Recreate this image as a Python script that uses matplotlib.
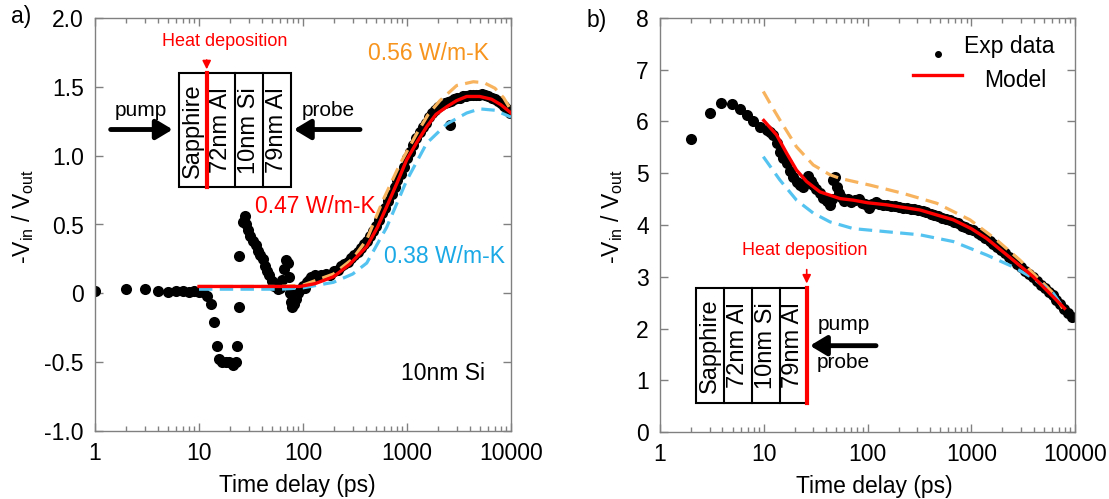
import matplotlib
matplotlib.use("Agg")
import matplotlib.pyplot as plt
from matplotlib.patches import Rectangle
from matplotlib.ticker import FixedLocator, FuncFormatter, NullFormatter, LogLocator

plt.rcParams['font.family'] = ['Liberation Sans', 'DejaVu Sans']

# ---------------- data: panel a ----------------
exp_a_x = [1, 2, 3, 4, 5, 6, 7, 8, 9, 10, 11,
           12, 13, 14, 15, 15.5, 16.5, 18, 19.5, 21, 22.5, 23, 24, 24.5, 26.5, 27.5, 28.5,
           29.5, 31, 33, 35, 37, 39, 41, 43, 45, 47, 50, 53, 57, 60, 63, 66, 69, 71, 73,
           75, 77, 79, 82, 86, 90, 95, 100, 105, 110, 115, 120, 130, 140, 150, 165, 180,
           200, 215, 230, 250, 270, 290, 310, 335, 360, 385, 410, 440, 470, 500, 540, 580,
           620, 660, 710, 760, 810, 870, 930, 1000, 1070, 1150, 1230, 1320, 1410, 1510,
           1620, 1740, 1860, 2000, 2140, 2300, 2460, 2600, 2640, 2830, 3030, 3250, 3480,
           3730, 4000, 4290, 4600, 4930, 5280, 5660, 6070, 6500, 6970, 7470, 8000, 8580,
           9200, 9860]
exp_a_y = [0.02, 0.03, 0.03, 0.02, 0.01, 0.02, 0.02, 0.01, 0.02, 0.01, 0.01,
           -0.02, -0.08, -0.21, -0.38, -0.48, -0.50, -0.50, -0.50, -0.52, -0.50, -0.38, -0.10,
           0.27, 0.52, 0.56, 0.50,
           0.46, 0.42, 0.38, 0.35, 0.31, 0.28, 0.25, 0.20, 0.16, 0.13, 0.09, 0.05, 0.03,
           0.04, 0.10, 0.18, 0.24, 0.22, 0.12,
           0.00, -0.06, -0.10, -0.08, -0.04, 0.00, 0.03, 0.05, 0.04, 0.08, 0.10, 0.12, 0.13,
           0.12, 0.13, 0.14, 0.13,
           0.16, 0.17, 0.20, 0.21, 0.23, 0.26, 0.28, 0.30, 0.33, 0.36, 0.38, 0.42, 0.45,
           0.49, 0.53, 0.58,
           0.62, 0.67, 0.72, 0.77, 0.82, 0.87, 0.92, 0.98, 1.03, 1.08, 1.13, 1.17, 1.21,
           1.24,
           1.28, 1.31, 1.33, 1.35, 1.37, 1.38, 1.39, 1.22, 1.40, 1.41, 1.42, 1.42, 1.43,
           1.43, 1.44, 1.44, 1.44, 1.44, 1.45, 1.44, 1.43, 1.42, 1.41, 1.40, 1.38, 1.36,
           1.34, 1.31]

red_a_x = [10, 30, 60, 93.5, 130, 196, 280, 410, 520, 638, 800, 993, 1250, 1546, 1900,
           2410, 3000, 3750, 5000, 6500, 8000, 10000]
red_a_y = [0.05, 0.05, 0.05, 0.05, 0.07, 0.12, 0.21, 0.34, 0.48, 0.63, 0.80, 0.97, 1.10,
           1.21, 1.30, 1.355, 1.40, 1.43, 1.43, 1.41, 1.37, 1.31]

orange_a_x = [10, 30, 60, 100, 196, 300, 410, 591, 857, 1240, 1600, 2075, 3010, 4340,
              5500, 7000, 8500, 10000]
orange_a_y = [0.05, 0.05, 0.05, 0.06, 0.14, 0.25, 0.39, 0.68, 0.94, 1.16, 1.30, 1.40,
              1.51, 1.537, 1.53, 1.49, 1.42, 1.33]

blue_a_x = [10, 30, 60, 100, 196, 300, 410, 638, 993, 1546, 2410, 3750, 5000, 7000, 10000]
blue_a_y = [0.03, 0.03, 0.03, 0.04, 0.08, 0.14, 0.22, 0.48, 0.82, 1.09, 1.23, 1.31, 1.34,
            1.33, 1.28]

# ---------------- data: panel b ----------------
exp_b_x = [2, 3, 3.9, 4.9, 5.9, 6.85, 7.9, 9.2, 10.7, 11.5, 12.3, 13.3, 14.3, 15.3, 16.6,
           17.9, 19.3, 20.8, 22.3, 24.0, 25.5, 26.8, 28.4, 30.0, 32, 34.8, 37.5, 40.3,
           43.5, 45, 46.8, 48.5, 50.6, 53, 56, 60, 65, 70, 76, 82, 88, 95, 103, 110, 120,
           130, 142, 155, 168, 183, 200, 218, 238, 260, 283, 310, 340, 370, 405, 440, 480,
           525, 570, 620, 680, 740, 810, 880, 960, 1050, 1150, 1250, 1370, 1500, 1630,
           1780, 1950, 2130, 2320, 2530, 2760, 3010, 3290, 3590, 3920, 4280, 4670, 5100,
           5560, 6070, 6630, 7230, 7890, 8610, 9400]
exp_b_y = [5.66, 6.17, 6.36, 6.34, 6.25, 6.13, 6.00, 5.90, 5.84, 5.80, 5.74, 5.58, 5.42,
           5.30, 5.19, 5.05, 4.93, 4.83, 4.78, 4.74, 4.85, 4.95, 4.85, 4.77, 4.70, 4.61,
           4.52, 4.46, 4.39, 4.50, 4.87, 4.93, 4.74, 4.62, 4.55, 4.47, 4.50, 4.45, 4.48,
           4.51, 4.42, 4.40, 4.33, 4.41, 4.44, 4.40, 4.38, 4.39, 4.36, 4.36, 4.34, 4.33,
           4.33, 4.31, 4.30, 4.29, 4.27, 4.25, 4.22, 4.20, 4.17, 4.14, 4.12, 4.09, 4.06,
           4.03, 3.99, 3.97, 3.93, 3.90, 3.85, 3.80, 3.75, 3.69, 3.63, 3.57, 3.51, 3.45,
           3.39, 3.32, 3.25, 3.18, 3.11, 3.05, 2.99, 2.92, 2.85, 2.78, 2.71, 2.64, 2.56,
           2.47, 2.38, 2.29, 2.22]

red_b_x = [10, 13.3, 16.6, 20.7, 25.9, 34.8, 54.5, 73, 100, 153, 321, 671, 1000, 1408,
           2540, 3960, 6180, 7920]
red_b_y = [6.02, 5.74, 5.39, 5.06, 4.84, 4.64, 4.51, 4.48, 4.43, 4.39, 4.29, 4.10, 3.93,
           3.74, 3.32, 3.00, 2.61, 2.39]

orange_b_x = [9.9, 12.3, 14.3, 20.7, 30, 43.5, 54.5, 106, 221, 465, 972, 1759, 2950,
              4265, 6180, 7600]
orange_b_y = [6.58, 6.25, 6.03, 5.51, 5.16, 4.97, 4.90, 4.77, 4.61, 4.42, 4.10, 3.71,
              3.32, 3.00, 2.68, 2.39]

blue_b_x = [9.9, 14.3, 20.7, 30, 43.5, 73, 153, 321, 671, 1408, 2540, 3960, 6180, 7600]
blue_b_y = [5.32, 4.87, 4.48, 4.23, 4.06, 3.93, 3.87, 3.81, 3.68, 3.42, 3.19, 2.97, 2.68,
            2.42]

x_ticks = [1, 10, 100, 1000, 10000]
a_yticks = [-1.0, -0.5, 0, 0.5, 1.0, 1.5, 2.0]
a_yticklabels = ['-1.0', '-0.5', '0', '0.5', '1.0', '1.5', '2.0']
b_yticks = [0, 1, 2, 3, 4, 5, 6, 7, 8]
layers = ['Sapphire', '72nm Al', '10nm Si', '79nm Al']

# ---------------- styling ----------------
RED = '#FF0000'
ORANGE_LINE = '#F8B35E'
BLUE_LINE = '#55C3F0'
ORANGE_TXT = '#F7941D'
BLUE_TXT = '#1BA9E6'
SPINE = '#808080'
FS = 16.5
DASH = (0, (4.2, 2.3))
MS = 8.0

fig = plt.figure(figsize=(11.09, 4.99), dpi=100)
axa = fig.add_axes([95/1109, 68/499, 416/1109, 413/499])
axb = fig.add_axes([660/1109, 67/499, 415/1109, 414/499])


def style_axis(ax):
    ax.set_xscale('log')
    ax.set_xlim(1, 10000)
    ax.xaxis.set_major_locator(FixedLocator(x_ticks))
    ax.xaxis.set_major_formatter(FuncFormatter(lambda v, p: '%d' % round(v)))
    ax.xaxis.set_minor_locator(LogLocator(base=10, subs=range(2, 10), numticks=20))
    ax.xaxis.set_minor_formatter(NullFormatter())
    for s in ax.spines.values():
        s.set_color(SPINE)
        s.set_linewidth(1.0)
    ax.tick_params(which='both', direction='in', top=True, right=True, color=SPINE,
                   width=1.0, labelsize=FS, labelcolor='black')
    ax.tick_params(which='major', length=6, pad=8)
    ax.tick_params(which='minor', length=3.5)
    ax.set_xlabel('Time delay (ps)', fontsize=FS)
    ax.set_ylabel(r'-V$_\mathregular{in}$ / V$_\mathregular{out}$', fontsize=FS)


# ---------------- panel a ----------------
style_axis(axa)
axa.plot(exp_a_x, exp_a_y, 'o', color='black', ms=MS, mec='none', zorder=2)
axa.plot(orange_a_x, orange_a_y, color=ORANGE_LINE, lw=2.3, ls=DASH, zorder=3)
axa.plot(blue_a_x, blue_a_y, color=BLUE_LINE, lw=2.3, ls=DASH, zorder=3)
axa.plot(red_a_x, red_a_y, color=RED, lw=2.4, zorder=4)
axa.set_ylim(-1.0, 2.0)
axa.set_yticks(a_yticks)
axa.set_yticklabels(a_yticklabels)
axa.yaxis.set_label_coords(-0.142, 0.52)
axa.xaxis.set_label_coords(0.487, -0.105)

T = axa.transAxes
xs = [0.2026, 0.2685, 0.3373, 0.4038, 0.4704]
y0, y1 = 0.590, 0.866
axa.add_patch(Rectangle((xs[0], y0), xs[-1] - xs[0], y1 - y0, transform=T,
                        fill=False, ec='black', lw=1.5, zorder=5))
for xd in xs[2:4]:
    axa.plot([xd, xd], [y0, y1], transform=T, color='black', lw=1.5, zorder=5)
axa.plot([xs[1], xs[1]], [y0, y1], transform=T, color=RED, lw=3, zorder=6)
for i, lab in enumerate(layers):
    axa.text((xs[i] + xs[i + 1]) / 2, (y0 + y1) / 2, lab, transform=T, rotation=90,
             ha='center', va='center', fontsize=17, zorder=6)
axa.annotate('', xy=(xs[1], 0.869), xytext=(xs[1], 0.905), xycoords=T,
             arrowprops=dict(arrowstyle='-|>,head_length=0.5,head_width=0.25',
                             color=RED, lw=1.2, mutation_scale=10))
axa.text(0.312, 0.943, 'Heat deposition', transform=T, color=RED, fontsize=13,
         ha='center', va='center')
axa.text(0.1106, 0.777, 'pump', transform=T, fontsize=15, ha='center', va='center')
axa.text(0.560, 0.777, 'probe', transform=T, fontsize=15, ha='center', va='center')
big_arrow = dict(arrowstyle='-|>,head_length=0.55,head_width=0.33', color='black',
                 lw=3.5, mutation_scale=18, shrinkA=0, shrinkB=0)
axa.annotate('', xy=(0.1868, 0.730), xytext=(0.0377, 0.730), xycoords=T,
             arrowprops=big_arrow)
axa.annotate('', xy=(0.478, 0.730), xytext=(0.637, 0.730), xycoords=T,
             arrowprops=big_arrow)
axa.text(0.801, 0.914, '0.56 W/m-K', transform=T, color=ORANGE_TXT, fontsize=FS,
         ha='center', va='center')
axa.text(0.530, 0.543, '0.47 W/m-K', transform=T, color=RED, fontsize=FS,
         ha='center', va='center')
axa.text(0.840, 0.422, '0.38 W/m-K', transform=T, color=BLUE_TXT, fontsize=FS,
         ha='center', va='center')
axa.text(0.836, 0.140, '10nm Si', transform=T, fontsize=FS, ha='center', va='center')

# ---------------- panel b ----------------
style_axis(axb)
axb.plot(exp_b_x, exp_b_y, 'o', color='black', ms=MS, mec='none', zorder=2)
axb.plot(orange_b_x, orange_b_y, color=ORANGE_LINE, lw=2.3, ls=DASH, zorder=3)
axb.plot(blue_b_x, blue_b_y, color=BLUE_LINE, lw=2.3, ls=DASH, zorder=3)
axb.plot(red_b_x, red_b_y, color=RED, lw=2.4, zorder=4)
axb.set_ylim(0, 8)
axb.set_yticks(b_yticks)
axb.set_yticklabels([str(v) for v in b_yticks])
axb.yaxis.set_label_coords(-0.084, 0.52)
axb.xaxis.set_label_coords(0.517, -0.105)

T = axb.transAxes
xs = [0.086, 0.154, 0.221, 0.289, 0.3535]
y0, y1 = 0.0693, 0.3486
axb.add_patch(Rectangle((xs[0], y0), xs[-1] - xs[0], y1 - y0, transform=T,
                        fill=False, ec='black', lw=1.5, zorder=5))
for xd in xs[1:4]:
    axb.plot([xd, xd], [y0, y1], transform=T, color='black', lw=1.5, zorder=5)
axb.plot([xs[4], xs[4]], [y0, y1], transform=T, color=RED, lw=3, zorder=6)
for i, lab in enumerate(layers):
    axb.text((xs[i] + xs[i + 1]) / 2, (y0 + y1) / 2, lab, transform=T, rotation=90,
             ha='center', va='center', fontsize=17, zorder=6)
axb.annotate('', xy=(xs[4], 0.352), xytext=(xs[4], 0.399), xycoords=T,
             arrowprops=dict(arrowstyle='-|>,head_length=0.5,head_width=0.25',
                             color=RED, lw=1.2, mutation_scale=10))
axb.text(0.348, 0.4396, 'Heat deposition', transform=T, color=RED, fontsize=13,
         ha='center', va='center')
axb.text(0.4418, 0.2585, 'pump', transform=T, fontsize=15, ha='center', va='center')
axb.text(0.4418, 0.167, 'probe', transform=T, fontsize=15, ha='center', va='center')
axb.annotate('', xy=(0.3614, 0.2085), xytext=(0.5205, 0.2085), xycoords=T,
             arrowprops=big_arrow)

# legend (drawn manually to match centered labels)
axb.plot([0.6706], [0.913], 'o', color='black', ms=4, transform=T, clip_on=False)
axb.text(0.841, 0.931, 'Exp data', transform=T, fontsize=FS, ha='center', va='center')
axb.plot([0.6104, 0.7270], [0.862, 0.862], color=RED, lw=2.4, transform=T)
axb.text(0.857, 0.850, 'Model', transform=T, fontsize=FS, ha='center', va='center')

fig.text(21 / 1109, 1 - 17 / 499, 'a)', fontsize=FS, ha='center', va='center')
fig.text(597 / 1109, 1 - 20 / 499, 'b)', fontsize=FS, ha='center', va='center')

fig.savefig('out.png', dpi=100)
